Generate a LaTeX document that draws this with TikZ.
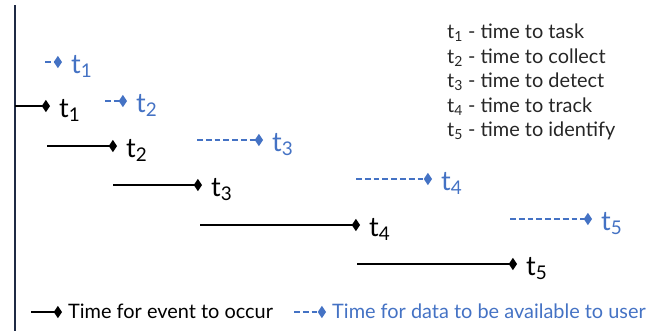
\documentclass[tikz,border=0pt]{standalone}
\usepackage{fontspec}
\setmainfont{Lato}
\usetikzlibrary{arrows.meta}

\definecolor{datablue}{HTML}{4472C4}
\definecolor{axisnavy}{HTML}{1F2A44}
\definecolor{keygray}{HTML}{262626}

\begin{document}
\begin{tikzpicture}[x=0.03cm, y=-0.03cm,
    event/.style={line width=2pt, black, -{Diamond[length=7pt, width=10.5pt]}},
    data/.style={line width=2pt, datablue, dash pattern=on 5pt off 2.5pt,
                 -{Diamond[length=7pt, width=10.5pt]}},
    tlab/.style={anchor=base west, inner xsep=0.27cm, inner ysep=0pt,
                 font=\fontsize{23pt}{25pt}\selectfont},
    keytext/.style={anchor=base west, inner xsep=0.18cm, inner ysep=0pt,
                    font=\fontsize{17pt}{19pt}\selectfont}]
    \useasboundingbox (0,0) rectangle (653,331);
    % time axis
    \coordinate (axtop) at (15,5);
    \coordinate (axbot) at (15,331);
    \draw[line width=1.8pt, axisnavy] (axtop) -- (axbot);

    % event bars
    \coordinate (evs1) at (15,106);
    \coordinate (evs2) at (47,146);
    \coordinate (evs3) at (113,185);
    \coordinate (evs4) at (200,225);
    \coordinate (evs5) at (357,264);
    \node[tlab] (ev1) at (50,117) {t\textsubscript{1}};
    \node[tlab] (ev2) at (117,157) {t\textsubscript{2}};
    \node[tlab] (ev3) at (202,196) {t\textsubscript{3}};
    \node[tlab] (ev4) at (360,236) {t\textsubscript{4}};
    \node[tlab] (ev5) at (517,275) {t\textsubscript{5}};
    \draw[event] (evs1) -- (evs1 -| ev1.west);
    \draw[event] (evs2) -- (evs2 -| ev2.west);
    \draw[event] (evs3) -- (evs3 -| ev3.west);
    \draw[event] (evs4) -- (evs4 -| ev4.west);
    \draw[event] (evs5) -- (evs5 -| ev5.west);

    % data availability bars
    \coordinate (das1) at (45,62);
    \coordinate (das2) at (105,101);
    \coordinate (das3) at (197,140);
    \coordinate (das4) at (356,179);
    \coordinate (das5) at (510,219);
    \node[tlab, text=datablue] (da1) at (62,73) {t\textsubscript{1}};
    \node[tlab, text=datablue] (da2) at (127,112) {t\textsubscript{2}};
    \node[tlab, text=datablue] (da3) at (263,151) {t\textsubscript{3}};
    \node[tlab, text=datablue] (da4) at (432,190) {t\textsubscript{4}};
    \node[tlab, text=datablue] (da5) at (592,230) {t\textsubscript{5}};
    \draw[data] (das1) -- (das1 -| da1.west);
    \draw[data] (das2) -- (das2 -| da2.west);
    \draw[data] (das3) -- (das3 -| da3.west);
    \draw[data] (das4) -- (das4 -| da4.west);
    \draw[data] (das5) -- (das5 -| da5.west);

    % key to the t's
    \node[keytext, inner xsep=0pt, text=keygray] (k1) at (447,38) {t\textsubscript{1} - time to task};
    \node[keytext, inner xsep=0pt, text=keygray] (k2) at (447,63) {t\textsubscript{2} - time to collect};
    \node[keytext, inner xsep=0pt, text=keygray] (k3) at (447,87) {t\textsubscript{3} - time to detect};
    \node[keytext, inner xsep=0pt, text=keygray] (k4) at (447,112) {t\textsubscript{4} - time to track};
    \node[keytext, inner xsep=0pt, text=keygray] (k5) at (447,136) {t\textsubscript{5} - time to identify};

    % legend
    \coordinate (lgev) at (31,312);
    \coordinate (lgda) at (294,312);
    \node[keytext] (lgevt) at (62,318) {Time for event to occur};
    \node[keytext, text=datablue] (lgdat) at (326,318) {Time for data to be available to user};
    \draw[event] (lgev) -- (lgev -| lgevt.west);
    \draw[data] (lgda) -- (lgda -| lgdat.west);
\end{tikzpicture}
\end{document}
